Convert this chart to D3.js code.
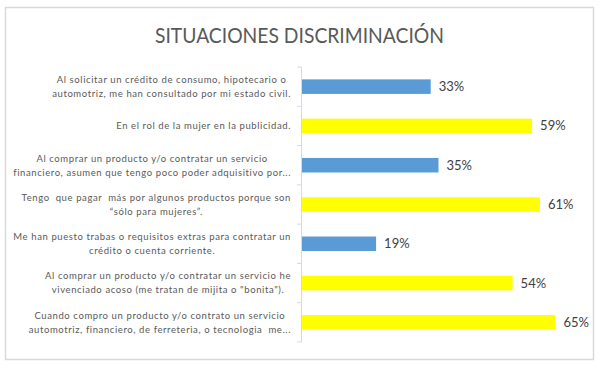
<!DOCTYPE html>
<html>
<head>
<meta charset="utf-8">
<script src="https://cdn.jsdelivr.net/npm/d3@7"></script>
<style>
  body { margin: 0; background: #fff; }
  svg { display: block; }
  .lbl { white-space: pre; }
</style>
</head>
<body>
<div id="chart"></div>
<script>
// chart data
const categories = [
  ["Al solicitar un crédito de consumo, hipotecario o", "automotriz, me han consultado por mi estado civil."],
  ["En el rol de la mujer en la publicidad."],
  ["Al comprar un producto y/o contratar un servicio", "financiero, asumen que tengo poco poder adquisitivo por..."],
  ["Tengo  que pagar  más por algunos productos porque son", "“sólo para mujeres”."],
  ["Me han puesto trabas o requisitos extras para contratar un", "crédito o cuenta corriente."],
  ["Al comprar un producto y/o contratar un servicio he", "vivenciado acoso (me tratan de mijita o \"bonita\")."],
  ["Cuando compro un producto y/o contrato un servicio", "automotriz, financiero, de ferreteria, o tecnologia  me..."]
];
const values = [0.33, 0.59, 0.35, 0.61, 0.19, 0.54, 0.65];
const barColors = ["#5b9bd5", "#ffff00", "#5b9bd5", "#ffff00", "#5b9bd5", "#ffff00", "#ffff00"];
const title = "SITUACIONES DISCRIMINACIÓN";

const W = 601, H = 369;
const svg = d3.select("#chart").append("svg")
  .attr("width", W)
  .attr("height", H);

// outer frame
svg.append("rect")
  .attr("x", 5.5).attr("y", 7.5)
  .attr("width", 588).attr("height", 352)
  .attr("fill", "#fff")
  .attr("stroke", "#d9d9d9")
  .attr("stroke-width", 1.5);

svg.append("text")
  .attr("x", 299.5)
  .attr("y", 43)
  .attr("text-anchor", "middle")
  .attr("font-family", "Lato, sans-serif")
  .attr("font-size", 22)
  .attr("fill", "#595959")
  .attr("textLength", 289)
  .attr("lengthAdjust", "spacingAndGlyphs")
  .text(title);

const x = d3.scaleLinear().domain([0, 0.7]).range([301, 574]);
const idx = d3.range(categories.length);
const y = d3.scaleBand().domain(idx).range([67, 342]).paddingInner(0.63).paddingOuter(0.315);

// category axis (line + ticks at boundaries)
const step = y.step();
const axis = svg.append("g").attr("stroke", "#d9d9d9").attr("stroke-width", 1);
axis.append("line")
  .attr("x1", 301.5).attr("x2", 301.5)
  .attr("y1", 67).attr("y2", 342);
axis.selectAll("line.tick")
  .data(d3.range(categories.length + 1))
  .join("line")
  .attr("class", "tick")
  .attr("x1", 297).attr("x2", 301.5)
  .attr("y1", d => 67 + d * step)
  .attr("y2", d => 67 + d * step);

svg.selectAll("rect.bar")
  .data(values)
  .join("rect")
  .attr("class", "bar")
  .attr("x", x(0) + 1)
  .attr("y", (d, i) => y(i))
  .attr("width", d => x(d) - x(0))
  .attr("height", y.bandwidth())
  .attr("fill", (d, i) => barColors[i]);

svg.selectAll("text.val")
  .data(values)
  .join("text")
  .attr("class", "val")
  .attr("x", d => x(d) + 9)
  .attr("y", (d, i) => y(i) + y.bandwidth() / 2)
  .attr("dy", "0.35em")
  .attr("font-family", "Lato, sans-serif")
  .attr("font-size", 13)
  .attr("fill", "#404040")
  .text(d => d3.format(".0%")(d));

// category labels: block right-aligned, lines centered inside it
const labelRight = 291;
const lineH = 14;
categories.forEach((lines, i) => {
  const g = svg.append("g");
  const cy = y(i) + y.bandwidth() / 2;
  const ts = lines.map((l, j) => g.append("text")
    .attr("class", "lbl")
    .attr("y", cy + (j - (lines.length - 1) / 2) * lineH)
    .attr("dy", "0.35em")
    .attr("text-anchor", "middle")
    .attr("font-family", "Lato, sans-serif")
    .attr("font-size", 9.5)
    .attr("letter-spacing", 0.6)
    .attr("fill", "#595959")
    .text(l));
  const maxW = d3.max(ts, t => t.node().getComputedTextLength());
  ts.forEach(t => t.attr("x", labelRight - maxW / 2));
});
</script>
</body>
</html>
